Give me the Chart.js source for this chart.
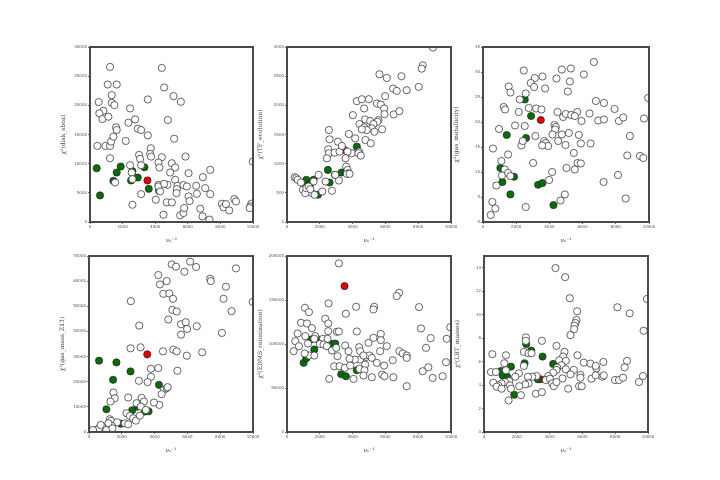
<!DOCTYPE html>
<html><head><meta charset="utf-8">
<script src="https://cdn.jsdelivr.net/npm/chart.js@4/dist/chart.umd.min.js"></script>
<style>
body{margin:0;background:#fff;width:720px;height:480px;position:relative;overflow:hidden}
canvas{position:absolute}
</style></head><body>
<canvas id="c1"></canvas><canvas id="c2"></canvas><canvas id="c3"></canvas>
<canvas id="c4"></canvas><canvas id="c5"></canvas><canvas id="c6"></canvas>
<script>
// ---- data ----
const xTicks = [0, 2000, 4000, 6000, 8000, 10000];
const xLabel = "ν\u209B\u207B\u00B9";

const p1_label = "χ²(disk_sbox)";
const p1_ticks = [0, 5000, 10000, 15000, 20000, 25000, 30000];
const p1_open = [[1229,26586],[4405,26416],[1086,23569],[1639,23569],[4549,23057],[1332,21747],[5123,21576],[533,20552],[3545,21007],[5573,20609],[1332,20438],[1496,20039],[820,19071],[574,18616],[2459,19470],[758,17648],[1127,18047],[4774,17478],[2766,17591],[2356,17022],[1598,16225],[1639,15770],[2930,15997],[3135,15770],[3545,14859],[5163,14289],[451,13037],[943,13037],[1229,13037],[1291,13777],[1434,14631],[2192,13891],[3729,12638],[3012,11500],[3688,11671],[3750,11215],[4405,11101],[1229,10931],[5860,11215],[4200,10190],[3074,10817],[5020,10077],[5225,9336],[3135,9735],[9990,10361],[2459,9735],[4262,9336],[2561,8483],[6045,8369],[4918,8483],[7376,8938],[6926,7686],[5225,7230],[1537,6775],[2602,7344],[4200,6376],[4754,6376],[5368,6205],[5737,6319],[5327,5636],[6516,6205],[5942,6091],[7069,5807],[6557,4839],[5307,4953],[4200,6091],[3135,4782],[4037,3814],[4713,3359],[5020,3359],[7376,4782],[6045,4384],[6106,3587],[4508,1252],[5532,1139],[5737,1537],[5778,2391],[2602,2960],[6762,2277],[6905,968],[7335,399],[8094,3131],[8196,2505],[8339,3074],[8544,1993],[8852,3928],[8954,3530],[9897,3131],[9835,2676],[9794,2391],[4549,6547],[4303,5238]];
const p1_green = [[410,9220],[615,4550],[1434,7060],[1639,8480],[1885,9510],[2520,7120],[2602,8710],[2930,7630],[3340,9390],[3606,5690],[4242,5350]];
const p1_red = [[3524,7120]];

const p2_label = "χ²(TF_evolution)";
const p2_ticks = [0, 500, 1000, 1500, 2000, 2500, 3000];
const p2_open = [[8900,2990],[8274,2686],[8213,2629],[5638,2532],[6084,2469],[6976,2498],[8031,2316],[6469,2287],[6692,2248],[7300,2259],[4259,2071],[4563,2105],[4989,2105],[5983,2157],[5476,2031],[5719,2014],[5922,1946],[4705,1946],[4015,1832],[5942,1849],[6510,1844],[6854,1900],[4766,1758],[5070,1730],[5577,1747],[5516,1718],[4421,1679],[5273,1679],[5172,1605],[4705,1622],[4867,1576],[4563,1588],[5334,1548],[5800,1588],[2555,1576],[2596,1417],[3772,1508],[4157,1434],[4786,1405],[5111,1349],[3103,1377],[2515,1246],[2555,1178],[2900,1189],[3204,1206],[3346,1303],[4401,1206],[3955,1178],[4360,1178],[4502,1138],[3691,1206],[2434,1092],[3569,1092],[3610,950],[3691,893],[3752,836],[3650,825],[3813,825],[3164,711],[2941,808],[2353,694],[1927,808],[2150,523],[2738,535],[1622,694],[466,768],[568,751],[649,723],[852,677],[973,552],[1379,580],[1521,495],[1683,467],[1115,495],[1176,580],[1318,609],[1420,563]];
const p2_green = [[1014,666],[1176,723],[1420,654],[1622,723],[1886,467],[2494,893],[2596,677],[2920,808],[3326,848],[3590,854],[4259,1292]];
const p2_red = [[3488,1235]];

const p3_label = "χ²(gas_metallicity)";
const p3_ticks = [0, 5, 10, 15, 20, 25, 30, 35];
const p3_open = [[6680,32.0],[2455,30.3],[4748,30.5],[5292,30.7],[6076,29.5],[3581,29.1],[3119,28.8],[4426,28.7],[5231,28.1],[2877,27.8],[1549,27.1],[3078,27.0],[3742,26.7],[1650,25.9],[2575,25.7],[5111,26.1],[2213,24.5],[6800,24.2],[7283,23.8],[2756,22.8],[1247,23.0],[1328,22.5],[2153,22.0],[3199,22.7],[3521,22.5],[4487,22.0],[5674,22.0],[6418,21.7],[7927,22.6],[4829,21.0],[4990,21.6],[5312,21.4],[5533,21.2],[5935,20.2],[6941,20.3],[7283,20.5],[8189,20.2],[8451,20.9],[9698,20.7],[966,18.6],[1932,19.3],[2515,19.2],[4305,19.4],[4386,19.0],[4346,18.5],[4185,17.5],[4748,17.5],[5171,17.8],[5774,17.4],[8853,17.2],[2314,15.3],[2394,16.2],[3159,17.2],[3682,16.2],[3783,15.8],[3923,15.2],[3561,15.3],[4527,16.2],[4970,15.4],[5895,15.7],[6479,15.7],[604,14.7],[1509,13.5],[5473,13.8],[8692,13.3],[9456,13.2],[9658,12.8],[1107,12.2],[3018,11.8],[5694,11.8],[5895,11.7],[5030,10.8],[5533,10.5],[1308,10.5],[1147,9.3],[1509,9.8],[1650,9.2],[4165,10.0],[805,7.3],[3984,8.4],[7263,8.0],[8129,9.4],[4929,5.5],[4668,4.3],[8591,4.7],[563,4.0],[744,2.7],[2575,3.0],[463,1.4],[9950,24.8]];
const p3_green = [[2515,24.5],[2897,21.2],[1429,17.4],[2596,16.8],[1046,10.8],[1871,9.05],[1167,7.98],[1650,5.52],[3320,7.45],[3581,7.79],[4245,3.39]];
const p3_red = [[3481,20.4]];

const p4_label = "χ²(gas_mass_Z13)";
const p4_ticks = [0, 10000, 20000, 30000, 40000, 50000, 60000, 70000];
const p4_open = [[5041,66683],[5307,65751],[6164,67748],[6531,65618],[5817,63755],[8960,65085],[4225,62425],[4327,58697],[4735,60028],[7388,60961],[7429,60028],[8348,57766],[4531,54970],[4898,55103],[5123,52974],[2551,52042],[8205,52974],[9980,51776],[8694,48048],[5082,48580],[5348,47915],[4837,44720],[5613,42857],[5899,43655],[5980,40994],[6572,42059],[5613,38732],[8103,39398],[3062,42325],[2531,33275],[3143,33675],[4511,32077],[5143,32743],[5348,32077],[6899,31678],[5960,30346],[5388,24357],[4225,25422],[3776,25156],[3776,21961],[3572,19832],[3041,20364],[1490,15706],[1572,13443],[1306,12112],[2388,13709],[3204,13576],[4286,10781],[4572,16771],[4735,17436],[4429,15040],[4796,17835],[3347,12112],[2898,11447],[3163,10116],[2286,7454],[2184,3461],[2388,3061],[2490,6389],[2694,5457],[2857,4525],[3102,6522],[3470,8785],[3960,11713],[1265,5058],[1347,4392],[1714,3860],[1388,2529],[1184,3461],[816,2130],[449,799],[612,1464],[1061,799],[1429,1464],[714,2795],[245,799]];
const p4_green = [[612,28350],[1061,9051],[1469,20764],[1673,27685],[1939,3300],[2531,24090],[2633,8650],[2959,10116],[3408,8119],[3633,8252],[4265,18767]];
const p4_red = [[3551,30879]];

const p5_label = "χ²(EDMS_reionization)";
const p5_ticks = [0, 50000, 100000, 150000, 200000];
const p5_open = [[3164,191650],[6834,158250],[6692,154460],[8051,141930],[2535,146100],[1095,141170],[1338,136240],[3590,134340],[4218,142310],[5313,142310],[5273,139270],[2332,128650],[852,124090],[1217,123330],[2515,123330],[1521,118020],[649,111950],[2515,114610],[3042,113850],[3164,114230],[4259,114230],[5719,111570],[8173,117640],[9957,119160],[507,103220],[406,91840],[730,97530],[1115,108920],[1724,108920],[1277,100570],[1663,105880],[2190,105880],[2474,105880],[2000,100190],[2231,99430],[2434,97530],[2738,92600],[3001,95630],[3549,98290],[4401,96390],[4462,91840],[4969,101330],[5273,107020],[5719,104360],[6084,97530],[5679,91840],[4462,82350],[4137,82350],[4827,85390],[5030,86910],[4664,86910],[5172,84250],[5476,78560],[5922,75520],[6449,81590],[6854,91840],[7057,89180],[7300,86910],[7300,84250],[8477,95630],[8761,106640],[9735,105880],[9695,79320],[1359,86910],[1663,86910],[1075,89180],[3082,86150],[2880,74760],[3204,74760],[3528,72860],[3752,91840],[3813,83110],[3853,75520],[4766,76660],[4421,71720],[4725,70210],[4056,60340],[4664,64130],[5172,62240],[5800,65270],[5942,63380],[6489,62240],[7300,51990],[8274,69070],[8619,73620],[8882,61480],[9492,63380],[2575,60340]];
const p5_green = [[1014,78560],[1176,83870],[1460,105120],[1663,93740],[1906,105120],[2535,97530],[2677,100190],[2941,100570],[3306,65650],[3590,63380],[4259,70210]];
const p5_red = [[3508,165840]];

const p6_label = "χ²(LBT_masses)";
const p6_ticks = [0, 2, 4, 6, 8, 10, 12, 14];
const p6_open = [[4360,13.97],[4948,13.2],[5232,11.4],[5678,10.29],[5638,9.54],[5577,9.29],[5516,9.06],[5496,8.77],[5273,8.26],[8132,10.63],[8883,10.11],[9734,8.63],[9937,11.34],[2555,8.06],[2555,7.77],[3529,7.77],[4421,7.34],[2434,6.83],[2718,6.71],[2900,6.71],[507,6.63],[1338,6.54],[2434,5.63],[4908,6.83],[4827,6.43],[4583,6.11],[4989,6.06],[4725,5.69],[5699,6.54],[4462,5.49],[6084,5.91],[6489,5.83],[6855,5.43],[7281,5.97],[6814,5.63],[8720,6.06],[8578,5.51],[4989,5.34],[5476,5.29],[4421,5.29],[4218,5.06],[3914,4.77],[3772,4.43],[3204,4.77],[2941,4.71],[2677,4.71],[2718,4.14],[2515,4.06],[2129,5.0],[1906,4.71],[1541,4.34],[1277,4.26],[1075,4.14],[872,3.97],[568,4.2],[426,5.11],[730,5.11],[1338,5.26],[1237,5.86],[771,3.86],[1075,3.69],[1582,3.97],[1643,3.69],[2150,3.91],[2251,3.14],[3164,3.26],[3529,3.4],[1501,2.69],[4016,4.54],[4157,4.14],[4258,3.91],[4421,4.26],[4787,4.57],[5131,3.69],[5273,4.91],[5881,4.86],[5881,4.63],[5800,3.91],[5962,3.91],[6550,4.54],[6814,4.83],[7220,4.71],[7301,4.83],[7990,4.43],[8233,4.43],[8477,4.63],[9450,4.26],[9694,4.77]];
const p6_green = [[1034,5.2],[1136,4.83],[1420,4.69],[1643,5.57],[1845,3.17],[2474,5.86],[2576,7.49],[2880,6.94],[3285,4.49],[3569,6.43],[4218,5.8]];
const p6_red = [[3468,4.49]];

// ---- layout (plot areas in page pixels) ----
const panels = [
  {id:'c1', L:90,  T:47,  W:163, H:175, label:p1_label, ticks:p1_ticks, open:p1_open, green:p1_green, red:p1_red},
  {id:'c2', L:287, T:47,  W:164, H:175, label:p2_label, ticks:p2_ticks, open:p2_open, green:p2_green, red:p2_red},
  {id:'c3', L:483, T:47,  W:166, H:175, label:p3_label, ticks:p3_ticks, open:p3_open, green:p3_green, red:p3_red},
  {id:'c4', L:89,  T:256, W:164, H:176, label:p4_label, ticks:p4_ticks, open:p4_open, green:p4_green, red:p4_red},
  {id:'c5', L:287, T:256, W:164, H:176, label:p5_label, ticks:p5_ticks, open:p5_open, green:p5_green, red:p5_red},
  {id:'c6', L:484, T:256, W:164, H:176, label:p6_label, ticks:p6_ticks, open:p6_open, green:p6_green, red:p6_red},
];
const YW = 30, XH = 22, PT = 6, PR = 8;

const boxPlugin = {
  id:'box',
  afterDatasetsDraw(chart){
    const a = chart.chartArea, ctx = chart.ctx;
    ctx.save();
    ctx.strokeStyle = '#4a4a4a';
    ctx.lineWidth = 2;
    ctx.strokeRect(a.left, a.top, a.right - a.left, a.bottom - a.top);
    ctx.restore();
  }
};

const toPts = arr => arr.map(p => ({x:p[0], y:p[1]}));

panels.forEach(p => {
  const cv = document.getElementById(p.id);
  const cw = p.W + YW + PR, ch = p.H + PT + XH;
  cv.width = cw; cv.height = ch;
  cv.style.left = (p.L - YW) + 'px';
  cv.style.top = (p.T - PT) + 'px';
  cv.style.width = cw + 'px'; cv.style.height = ch + 'px';
  const ymax = p.ticks[p.ticks.length - 1] === 14 ? 15 : p.ticks[p.ticks.length - 1];
  const ptStyle = (bg) => ({backgroundColor:bg, borderColor:'#222', borderWidth:0.7, pointRadius:3.6, pointHoverRadius:3.6});
  new Chart(cv, {
    type:'scatter',
    data:{datasets:[
      Object.assign({data:toPts(p.open)}, ptStyle('#ffffff')),
      Object.assign({data:toPts(p.green)}, ptStyle('#0b6b0b')),
      Object.assign({data:toPts(p.red)}, ptStyle('#e30000')),
    ]},
    plugins:[boxPlugin],
    options:{
      responsive:false, animation:false, devicePixelRatio:1,
      layout:{padding:{top:PT, right:PR, left:0, bottom:0}},
      plugins:{legend:{display:false}, tooltip:{enabled:false}},
      scales:{
        x:{type:'linear', min:0, max:10000,
          afterFit(s){ s.height = XH; },
          afterBuildTicks(s){ s.ticks = xTicks.map(v => ({value:v})); },
          border:{display:false},
          grid:{display:true, drawOnChartArea:false, drawTicks:true, tickLength:2, color:'#666'},
          ticks:{font:{size:4, family:'DejaVu Sans'}, color:'#555', padding:1, maxRotation:0, autoSkip:false, callback:v => String(v)},
          title:{display:true, text:xLabel, font:{size:6, family:'DejaVu Serif'}, color:'#444', padding:{top:1, bottom:0}}
        },
        y:{type:'linear', min:0, max:ymax,
          afterFit(s){ s.width = YW; },
          afterBuildTicks(s){ s.ticks = p.ticks.map(v => ({value:v})); },
          border:{display:false},
          grid:{display:true, drawOnChartArea:false, drawTicks:true, tickLength:2, color:'#666'},
          ticks:{font:{size:4, family:'DejaVu Sans'}, color:'#555', padding:1, autoSkip:false, callback:v => String(v)},
          title:{display:true, text:p.label, font:{size:6, family:'DejaVu Serif'}, color:'#444', padding:{top:0, bottom:1}}
        }
      }
    }
  });
});
</script>
</body></html>
